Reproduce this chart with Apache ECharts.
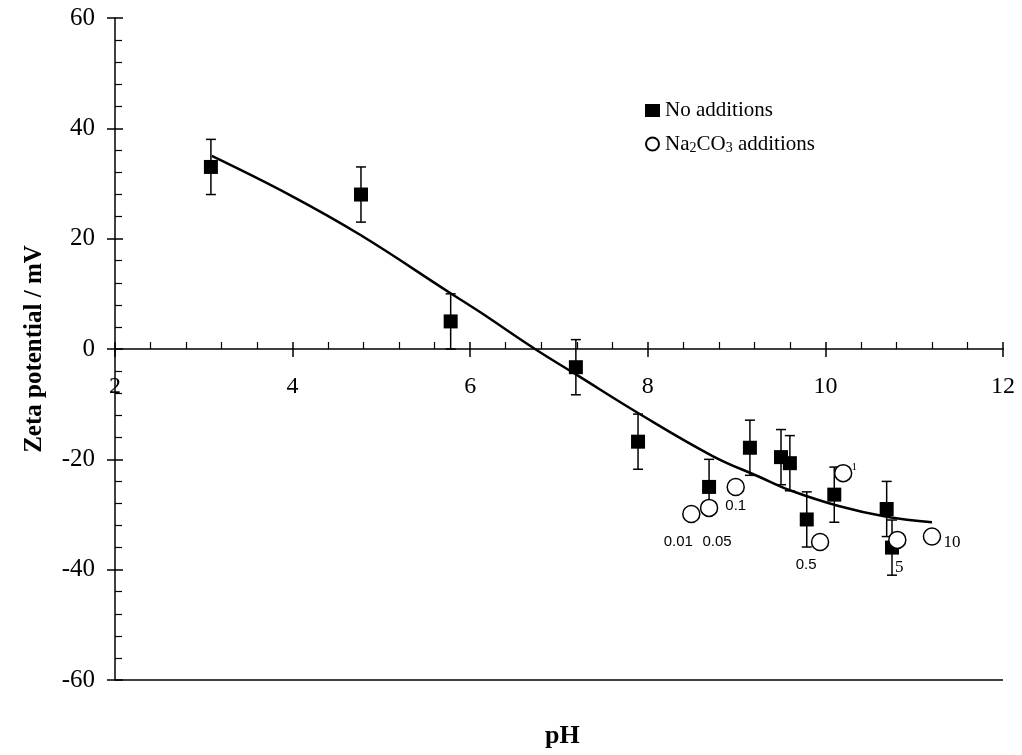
<!DOCTYPE html>
<html><head><meta charset="utf-8">
<script src="https://cdn.jsdelivr.net/npm/echarts@6/dist/echarts.min.js"></script>
<style>html,body{margin:0;padding:0;background:#fff}#c{width:1022px;height:755px}</style>
</head><body><div id="c"></div>
<script>
// Data
const pHNoAdd = [3.08, 4.77, 5.78, 7.19, 7.89, 8.69, 9.15, 9.50, 9.60, 9.79, 10.10, 10.69, 10.75];
const zetaNoAdd = [33, 28, 5, -3.3, -16.8, -25, -17.9, -19.6, -20.7, -30.9, -26.4, -29, -36];
const errNoAdd = [5, 5, 5, 5, 5, 5, 5, 5, 5, 5, 5, 5, 5];
const pHNa = [8.49, 8.69, 8.99, 9.94, 10.20, 10.81, 11.20];
const zetaNa = [-29.9, -28.8, -25, -35, -22.5, -34.6, -34];
const naLabels = ['0.01', '0.05', '0.1', '0.5', '1', '5', '10'];
const fitPH = [3.09, 3.97, 4.76, 5.77, 6.11, 6.73, 7.20, 7.89, 8.73, 9.26, 9.60, 10.16, 10.69, 11.2];
const fitZeta = [35, 27.9, 20.7, 10.2, 6.7, 0, -4.7, -11.6, -19.4, -23.2, -25.6, -28.5, -30.4, -31.4];
const xTicks = [2, 4, 6, 8, 10, 12];
const yTicks = [-60, -40, -20, 0, 20, 40, 60];

// label styling (offsets, fonts) kept separately
const naLabelStyle = [
  {offset: [-13, 28], fontFamily: 'Liberation Sans', fontSize: 15},
  {offset: [8, 34], fontFamily: 'Liberation Sans', fontSize: 15},
  {offset: [0, 19], fontFamily: 'Liberation Sans', fontSize: 15},
  {offset: [-14, 23], fontFamily: 'Liberation Sans', fontSize: 15},
  {offset: [11, -6], fontFamily: 'Liberation Serif', fontSize: 11},
  {offset: [2, 28], fontFamily: 'Liberation Serif', fontSize: 17},
  {offset: [20, 6], fontFamily: 'Liberation Serif', fontSize: 17}
];

const serif = 'Liberation Serif';
const gridLeft = 115, gridRight = 19;
const chart = echarts.init(document.getElementById('c'), null, {renderer: 'canvas'});
const plotWidth = 1022 - gridLeft - gridRight;

const noAddData = pHNoAdd.map((x, i) => [x, zetaNoAdd[i]]);
const errData = pHNoAdd.map((x, i) => [x, zetaNoAdd[i] - errNoAdd[i], zetaNoAdd[i] + errNoAdd[i]]);
const naData = pHNa.map((x, i) => ({
  value: [x, zetaNa[i]],
  label: Object.assign({show: true, position: 'inside', formatter: naLabels[i], color: '#000'}, naLabelStyle[i])
}));
const fitData = fitPH.map((x, i) => [x, fitZeta[i]]);
const xTickLabelData = xTicks.map(x => [x, 0]);

const option = {
  backgroundColor: '#fff',
  animation: false,
  grid: {left: gridLeft, right: gridRight, top: 18, bottom: 75, containLabel: false},
  title: {
    text: 'pH', left: 540, top: 718,
    textStyle: {fontFamily: serif, fontWeight: 'bold', fontSize: 26, color: '#000'}
  },
  legend: {
    orient: 'vertical', left: 640, top: 95, itemGap: 12,
    itemWidth: 15, itemHeight: 13,
    data: [{name: 'No additions', icon: 'rect'}, {name: 'Na2CO3 additions', icon: 'circle'}],
    formatter: function (n) {
      if (n === 'Na2CO3 additions') return '{t|Na}{s|2}{t|CO}{s|3}{t| additions}';
      return '{t|' + n + '}';
    },
    textStyle: {
      color: '#000', fontFamily: serif, fontSize: 21,
      rich: {
        t: {fontFamily: serif, fontSize: 21, lineHeight: 22, color: '#000'},
        s: {fontFamily: serif, fontSize: 14, lineHeight: 22, verticalAlign: 'bottom', padding: [8, 0, 0, 0], color: '#000'}
      }
    }
  },
  xAxis: [{
    type: 'value', min: xTicks[0], max: xTicks[xTicks.length - 1], interval: 2,
    position: 'bottom',
    axisLine: {onZero: true, onZeroAxisIndex: 0, lineStyle: {color: '#000', width: 1.5}},
    axisTick: {show: true, length: 8, lineStyle: {color: '#000', width: 1.5}},
    minorTick: {show: true, splitNumber: 5, length: -7, lineStyle: {color: '#000', width: 1.2}},
    splitLine: {show: false},
    axisLabel: {show: false}
  }, {
    type: 'value', min: xTicks[0], max: xTicks[xTicks.length - 1], interval: 2,
    position: 'top',
    axisLine: {show: true, onZero: true, onZeroAxisIndex: 0, lineStyle: {color: '#000', width: 1.5, opacity: 0}},
    axisTick: {show: true, length: 7, lineStyle: {color: '#000', width: 1.5}},
    splitLine: {show: false},
    axisLabel: {show: false}
  }],
  yAxis: [{
    type: 'value', min: yTicks[0], max: yTicks[yTicks.length - 1], interval: 20,
    name: 'Zeta potential / mV', nameLocation: 'middle', nameGap: 68, nameRotate: 90,
    nameTextStyle: {fontFamily: serif, fontWeight: 'bold', fontSize: 25, color: '#000'},
    axisLine: {show: true, onZero: false, lineStyle: {color: '#000', width: 1.5}},
    axisTick: {show: true, length: 8, lineStyle: {color: '#000', width: 1.5}},
    minorTick: {show: true, splitNumber: 5, length: -7, lineStyle: {color: '#000', width: 1.2}},
    splitLine: {show: false},
    axisLabel: {color: '#000', fontFamily: serif, fontSize: 25, margin: 20}
  }, {
    type: 'value', min: yTicks[0], max: yTicks[yTicks.length - 1], interval: 20,
    position: 'right', offset: -plotWidth,
    axisLine: {show: true, onZero: false, lineStyle: {color: '#000', width: 1.5, opacity: 0}},
    axisTick: {show: true, length: 8, lineStyle: {color: '#000', width: 1.5}},
    splitLine: {show: false},
    axisLabel: {show: false}
  }],
  series: [
    {
      type: 'line', name: 'fit', data: fitData, smooth: 0.4, showSymbol: false,
      lineStyle: {color: '#000', width: 2.5}, silent: true, z: 2,
      markLine: {
        silent: true, symbol: 'none', label: {show: false},
        lineStyle: {color: '#000', width: 1.5, type: 'solid'},
        data: [{yAxis: yTicks[0]}]
      }
    },
    {
      type: 'custom', name: 'xticklabels', data: xTickLabelData, silent: true, z: 1, clip: false,
      renderItem: function (params, api) {
        const p = api.coord([api.value(0), api.value(1)]);
        return {
          type: 'text', x: p[0], y: p[1] + 26,
          style: {text: String(api.value(0)), fill: '#000', font: '24px "Liberation Serif"',
            align: 'center', verticalAlign: 'top'}
        };
      }
    },
    {
      type: 'custom', name: 'err', data: errData, z: 3, silent: true,
      renderItem: function (params, api) {
        const x = api.value(0);
        const lo = api.coord([x, api.value(1)]);
        const hi = api.coord([x, api.value(2)]);
        const cap = 5;
        const st = {stroke: '#000', lineWidth: 1.5};
        return {
          type: 'group', children: [
            {type: 'line', shape: {x1: lo[0], y1: lo[1], x2: hi[0], y2: hi[1]}, style: st},
            {type: 'line', shape: {x1: lo[0] - cap, y1: lo[1], x2: lo[0] + cap, y2: lo[1]}, style: st},
            {type: 'line', shape: {x1: hi[0] - cap, y1: hi[1], x2: hi[0] + cap, y2: hi[1]}, style: st}
          ]
        };
      }
    },
    {
      type: 'scatter', name: 'No additions', data: noAddData, symbol: 'rect', symbolSize: 14,
      itemStyle: {color: '#000', opacity: 1}, z: 4
    },
    {
      type: 'scatter', name: 'Na2CO3 additions', data: naData, symbol: 'circle', symbolSize: 17,
      itemStyle: {color: '#fff', borderColor: '#000', borderWidth: 1.5, opacity: 1}, z: 5
    }
  ]
};
chart.setOption(option);
</script>
</body></html>
